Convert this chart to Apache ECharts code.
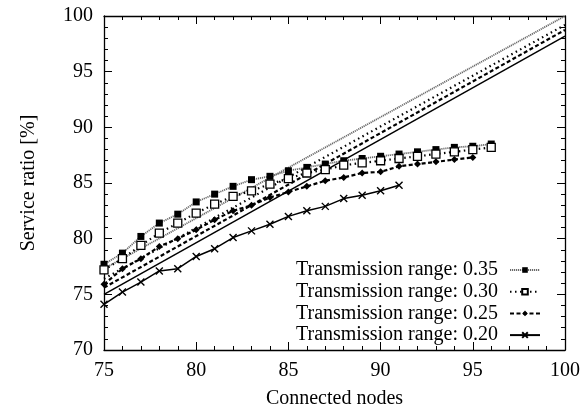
<!DOCTYPE html>
<html>
<head>
<meta charset="utf-8">
<script src="https://cdn.jsdelivr.net/npm/echarts@6/dist/echarts.min.js"></script>
<style>
  html, body { margin: 0; padding: 0; background: #fff; }
  #chart { width: 587px; height: 411px; }
</style>
</head>
<body>
<div id="chart"></div>
<script>
// measured points, x = connected nodes
var nodes35 = [75, 76, 77, 78, 79, 80, 81, 82, 83, 84, 85, 86, 87, 88, 89, 90, 91, 92, 93, 94, 95, 96];
var ratio35 = [77.7, 78.7, 80.2, 81.4, 82.2, 83.3, 84.0, 84.7, 85.3, 85.6, 86.1, 86.4, 86.7, 87.0, 87.2, 87.4, 87.6, 87.8, 88.0, 88.2, 88.3, 88.5];
var nodes30 = [75, 76, 77, 78, 79, 80, 81, 82, 83, 84, 85, 86, 87, 88, 89, 90, 91, 92, 93, 94, 95, 96];
var ratio30 = [77.2, 78.2, 79.4, 80.5, 81.4, 82.3, 83.1, 83.8, 84.3, 84.9, 85.4, 85.9, 86.2, 86.6, 86.8, 87.0, 87.2, 87.4, 87.6, 87.8, 88.0, 88.2];
var nodes25 = [75, 76, 77, 78, 79, 80, 81, 82, 83, 84, 85, 86, 87, 88, 89, 90, 91, 92, 93, 94, 95];
var ratio25 = [75.9, 77.3, 78.2, 79.3, 80.0, 80.8, 81.7, 82.5, 83.0, 83.7, 84.2, 84.7, 85.2, 85.5, 85.9, 86.0, 86.5, 86.7, 86.9, 87.1, 87.3];
var nodes20 = [75, 76, 77, 78, 79, 80, 81, 82, 83, 84, 85, 86, 87, 88, 89, 90, 91];
var ratio20 = [74.1, 75.2, 76.1, 77.1, 77.3, 78.4, 79.1, 80.1, 80.7, 81.3, 82.0, 82.5, 82.9, 83.6, 83.9, 84.3, 84.8];

// straight reference lines (start at 75, end at 100)
var lineEnds = [75, 100];
var line35 = [77.3, 100.0];
var line30 = [76.4, 99.2];
var line25 = [75.6, 98.75];
var line20 = [75.0, 98.2];

var legendNames = ['Transmission range: 0.35', 'Transmission range: 0.30', 'Transmission range: 0.25', 'Transmission range: 0.20'];

var serif = 'Liberation Serif';

function pairs(xs, ys) {
  return xs.map(function (x, i) { return [x, ys[i]]; });
}

// line look for each range
var looks = [
  { color: '#6a6a6a', width: 1.8, type: [1.2, 0.8] },
  { color: '#000', width: 2.2, type: [1.5, 3.5] },
  { color: '#000', width: 2.2, type: [4, 2.5] },
  { color: '#000', width: 1.5, type: 'solid' }
];

var marks = [
  { symbol: 'rect', size: 7, itemStyle: { color: '#000', borderColor: '#000', borderWidth: 0 } },
  { symbol: 'rect', size: 8, itemStyle: { color: '#fff', borderColor: '#000', borderWidth: 1.3 } },
  { symbol: 'diamond', size: 7, itemStyle: { color: '#000', borderColor: '#000', borderWidth: 0 } },
  { symbol: 'path://M0,0L10,10M10,0L0,10', size: 7, itemStyle: { color: 'none', borderColor: '#000', borderWidth: 1.4 } }
];

var dataSets = [
  pairs(nodes35, ratio35),
  pairs(nodes30, ratio30),
  pairs(nodes25, ratio25),
  pairs(nodes20, ratio20)
];
var lineSets = [
  pairs(lineEnds, line35),
  pairs(lineEnds, line30),
  pairs(lineEnds, line25),
  pairs(lineEnds, line20)
];

var series = [];
// straight lines first so markers sit on top
lineSets.forEach(function (d, i) {
  series.push({
    name: 'line' + i,
    type: 'line',
    data: d,
    symbol: 'none',
    silent: true,
    z: 2,
    lineStyle: { color: looks[i].color, width: looks[i].width, type: looks[i].type }
  });
});
dataSets.forEach(function (d, i) {
  series.push({
    name: legendNames[i],
    type: 'line',
    data: d,
    symbol: marks[i].symbol,
    symbolSize: marks[i].size,
    showSymbol: true,
    z: 3,
    lineStyle: { color: looks[i].color, width: looks[i].width, type: looks[i].type },
    itemStyle: marks[i].itemStyle
  });
});

function axisBase(extra) {
  var a = {
    type: 'value',
    min: 70,
    max: 100,
    interval: 5,
    axisLine: { show: true, onZero: false, lineStyle: { color: '#000', width: 1.3 } },
    axisTick: { show: true, inside: true, length: 8, lineStyle: { color: '#000', width: 1 } },
    minorTick: { show: true, splitNumber: 5, length: 4, lineStyle: { color: '#000', width: 1 } },
    splitLine: { show: false },
    axisLabel: { show: false }
  };
  return Object.assign(a, extra);
}

var option = {
  animation: false,
  backgroundColor: '#fff',
  grid: { left: 104, right: 22, top: 16, bottom: 61, containLabel: false, outerBoundsMode: 'none' },
  legend: {
    data: legendNames,
    orient: 'vertical',
    right: 41,
    top: 255,
    align: 'right',
    itemWidth: 30,
    itemHeight: 7,
    itemGap: 1.7,
    selectedMode: false,
    textStyle: { fontFamily: serif, fontSize: 20, color: '#000', lineHeight: 20, padding: [0, 7, 0, 0] }
  },
  xAxis: [
    axisBase({
      min: 75, max: 100, position: 'bottom',
      name: 'Connected nodes', nameLocation: 'middle', nameGap: 39,
      nameTextStyle: { fontFamily: serif, fontSize: 20, color: '#000' },
      axisLabel: { show: true, margin: 11, fontFamily: serif, fontSize: 20, color: '#000' }
    }),
    axisBase({ min: 75, max: 100, position: 'top' })
  ],
  yAxis: [
    axisBase({
      position: 'left',
      name: 'Service ratio [%]', nameLocation: 'middle', nameGap: 65,
      nameTextStyle: { fontFamily: serif, fontSize: 20, color: '#000' },
      axisLabel: { show: true, margin: 11, fontFamily: serif, fontSize: 20, color: '#000' }
    }),
    axisBase({ position: 'right' })
  ],
  series: series
};

var chart = echarts.init(document.getElementById('chart'), null, { renderer: 'canvas' });
chart.setOption(option);
</script>
</body>
</html>
